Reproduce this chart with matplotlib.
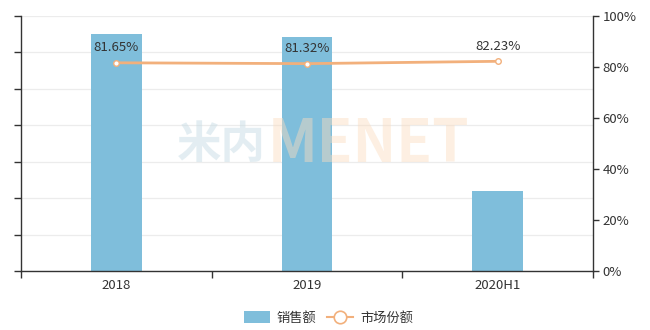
import matplotlib
matplotlib.use("Agg")
import matplotlib.pyplot as plt
from matplotlib.lines import Line2D
from matplotlib.patches import Patch

plt.rcParams['font.family'] = ['Noto Sans CJK SC', 'DejaVu Sans']

categories = ["2018", "2019", "2020H1"]
sales = [65.0, 64.3, 22.0]
share = [81.65, 81.32, 82.23]
share_labels = ["81.65%", "81.32%", "82.23%"]
right_ticks = [0, 20, 40, 60, 80, 100]

bar_color = "#7fbedb"
line_color = "#f2b07c"
text_color = "#333333"

fig = plt.figure(figsize=(6.5, 3.3), dpi=100)
ax = fig.add_axes([21/650, 59/330, 572/650, 255/330])
x = list(range(len(categories)))

ax.bar(x, sales, width=0.265, color=bar_color, zorder=2)
ax.set_xlim(-0.5, 2.5)
ax.set_ylim(0, 70)
ax.set_yticks(range(0, 71, 10))
ax.set_yticklabels([])
ax.grid(axis='y', color='#ececec', linewidth=0.9, zorder=0)
ax.set_xticks(x)
ax.set_xticklabels(categories, color=text_color, fontsize=9.5)
ax.tick_params(axis='x', which='major', length=0, pad=6)
ax.set_xticks([-0.5, 0.5, 1.5, 2.5], minor=True)
ax.tick_params(axis='x', which='minor', length=5, color='#333333', width=1)
ax.tick_params(axis='y', length=5, color='#333333', width=1)
for s in ['top', 'right']:
    ax.spines[s].set_visible(False)
for s in ['left', 'bottom']:
    ax.spines[s].set_color('#333333')
    ax.spines[s].set_linewidth(1)

ax2 = ax.twinx()
ax2.set_ylim(0, 100)
ax2.set_yticks(right_ticks)
ax2.set_yticklabels([f"{t}%" for t in right_ticks], color=text_color, fontsize=9.5)
ax2.tick_params(axis='y', length=4, color='#333333', width=1, pad=3)
for s in ['top', 'left', 'bottom']:
    ax2.spines[s].set_visible(False)
ax2.spines['right'].set_color('#333333')
ax2.spines['right'].set_linewidth(1)

ax2.plot(x, share, color=line_color, linewidth=2, marker='o', markersize=4,
         markerfacecolor='white', markeredgecolor=line_color, markeredgewidth=1, zorder=3)
for xi, v, lab in zip(x, share, share_labels):
    ax2.annotate(lab, (xi, v), xytext=(0, 6), textcoords='offset points',
                 ha='center', va='bottom', fontsize=9.5, color=text_color)

# watermark
fig.text(177/650, 1 - 145/330, "米内", fontsize=32, fontweight='bold', color='#c9dde6',
         alpha=0.5, ha='left', va='center', zorder=10)
fig.text(268/650, 1 - 145/330, "MENET", fontsize=42, fontweight='bold', color='#fbdcbf',
         alpha=0.45, ha='left', va='center', zorder=10)

handles = [Patch(facecolor=bar_color, edgecolor='none'),
           Line2D([0], [0], color=line_color, linewidth=1.5, marker='o', markersize=9,
                  markerfacecolor='white', markeredgecolor=line_color, markeredgewidth=1.2)]
fig.legend(handles, ["销售额", "市场份额"], loc='center', bbox_to_anchor=(0.505, 1 - 318/330),
           ncol=2, frameon=False, fontsize=9.5, handlelength=2.0, handleheight=1.0,
           columnspacing=0.8, handletextpad=0.5, labelcolor=text_color)

fig.savefig("out.png", dpi=100)
